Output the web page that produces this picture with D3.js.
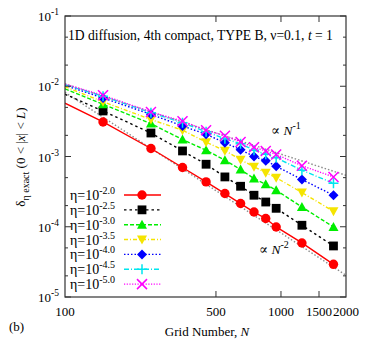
<!DOCTYPE html>
<html><head><meta charset="utf-8">
<script src="https://cdn.jsdelivr.net/npm/d3@7"></script>
<style>body{margin:0;background:#fff}svg{display:block}text{font-family:"Liberation Serif","DejaVu Serif",serif;fill:#000}</style>
</head><body>
<script>
// ---- data ----
const gridN = [100,150,250,350,450,550,650,750,850,950,1250,1750];
const eta20 = [5.73e-3,3.10e-3,1.30e-3,6.97e-4,4.35e-4,2.97e-4,2.14e-4,1.62e-4,1.31e-4,9.93e-5,5.88e-5,2.92e-5];
const eta25 = [7.69e-3,4.45e-3,2.16e-3,1.20e-3,7.76e-4,5.12e-4,3.77e-4,2.81e-4,2.25e-4,1.83e-4,1.05e-4,5.33e-5];
const eta30 = [9.20e-3,5.55e-3,2.94e-3,1.74e-3,1.23e-3,8.85e-4,6.52e-4,4.85e-4,4.03e-4,3.31e-4,1.91e-4,9.93e-5];
const eta35 = [9.84e-3,6.02e-3,3.36e-3,2.37e-3,1.60e-3,1.21e-3,9.00e-4,7.15e-4,5.87e-4,4.99e-4,3.07e-4,1.66e-4];
const eta40 = [1.03e-2,6.81e-3,3.99e-3,2.72e-3,2.07e-3,1.57e-3,1.25e-3,9.98e-4,8.70e-4,7.26e-4,4.70e-4,2.81e-4];
const eta45 = [1.05e-2,7.21e-3,4.20e-3,3.02e-3,2.25e-3,1.79e-3,1.52e-3,1.23e-3,1.08e-3,9.59e-4,6.37e-4,4.16e-4];
const eta50 = [1.07e-2,7.44e-3,4.31e-3,3.18e-3,2.37e-3,1.97e-3,1.61e-3,1.35e-3,1.20e-3,1.07e-3,7.38e-4,5.12e-4];
const seriesLabels = ["-2.0","-2.5","-3.0","-3.5","-4.0","-4.5","-5.0"];
const refN = [100, 2000];
const refSlope1 = [1.08e-2, 5.40e-4];   // ∝ N^-1
const refSlope2 = [8.16e-3, 2.04e-5];   // ∝ N^-2
const xTicks = [100, 500, 1000, 1500, 2000];
const yTickExps = ["-1","-2","-3","-4","-5"];
const yTicks = [1e-1,1e-2,1e-3,1e-4,1e-5];
const yMinor = [5e-2,2e-2,5e-3,2e-3,5e-4,2e-4,5e-5,2e-5];

// ---- layout ----
const W=382,H=344, L=65, R=346, T=16, B=297;
const svg=d3.select("body").append("svg").attr("width",W).attr("height",H);
const x=d3.scaleLog().domain([100,2000]).range([L,R]);
const y=d3.scaleLog().domain([1e-5,1e-1]).range([B,T]);

svg.append("clipPath").attr("id","clip").append("rect").attr("x",L).attr("y",T).attr("width",R-L).attr("height",B-T);

const styles=[
 {c:"#ff0000",dash:null,m:"circle"},
 {c:"#000000",dash:"2.5,3",m:"square"},
 {c:"#00ee00",dash:"4,2",m:"tri"},
 {c:"#f5e400",dash:"4,2,1,2",m:"dtri"},
 {c:"#0000ff",dash:"1.5,2",m:"diamond"},
 {c:"#00e5ee",dash:"5,2,1,2",m:"plus"},
 {c:"#ff00ff",dash:"1.2,1.5",m:"cross"}
];
const allSeries=[eta20,eta25,eta30,eta35,eta40,eta45,eta50];

function marker(g,type,cx,cy,col){
  if(type==="circle") g.append("circle").attr("cx",cx).attr("cy",cy).attr("r",4.7).attr("fill",col);
  else if(type==="square") g.append("rect").attr("x",cx-4.4).attr("y",cy-4.4).attr("width",8.8).attr("height",8.8).attr("fill",col);
  else if(type==="tri") g.append("path").attr("d",`M${cx},${cy-5}L${cx+5},${cy+4}L${cx-5},${cy+4}Z`).attr("fill",col);
  else if(type==="dtri") g.append("path").attr("d",`M${cx},${cy+5}L${cx+5},${cy-4}L${cx-5},${cy-4}Z`).attr("fill",col);
  else if(type==="diamond") g.append("path").attr("d",`M${cx},${cy-5}L${cx+5},${cy}L${cx},${cy+5}L${cx-5},${cy}Z`).attr("fill",col);
  else if(type==="plus") g.append("path").attr("d",`M${cx-5},${cy}H${cx+5}M${cx},${cy-5}V${cy+5}`).attr("stroke",col).attr("stroke-width",1.5);
  else if(type==="cross") g.append("path").attr("d",`M${cx-5},${cy-5}L${cx+5},${cy+5}M${cx-5},${cy+5}L${cx+5},${cy-5}`).attr("stroke",col).attr("stroke-width",1.5);
}

const plot=svg.append("g").attr("clip-path","url(#clip)");
const line=d3.line().x(d=>x(d[0])).y(d=>y(d[1]));
// reference lines
[refSlope1,refSlope2].forEach(r=>{
  plot.append("path").attr("d",line(refN.map((n,i)=>[n,r[i]]))).attr("fill","none")
   .attr("stroke","#8c8c8c").attr("stroke-width",1.4).attr("stroke-dasharray","1.5,2");
});
// series lines
allSeries.forEach((s,k)=>{
  const st=styles[k];
  plot.append("path").attr("d",line(gridN.map((n,i)=>[n,s[i]]))).attr("fill","none")
   .attr("stroke",st.c).attr("stroke-width",1.4).attr("stroke-dasharray",st.dash);
});
const mk=svg.append("g");
allSeries.forEach((s,k)=>{
  gridN.forEach((n,i)=>{ if(n>x.domain()[0]) marker(mk,styles[k].m,x(n),y(s[i]),styles[k].c); });
});

// frame
svg.append("rect").attr("x",L).attr("y",T).attr("width",R-L).attr("height",B-T).attr("fill","none").attr("stroke","#333").attr("stroke-width",1.2);
const tk=svg.append("g").attr("stroke","#333").attr("stroke-width",1);
xTicks.slice(1,-1).forEach(v=>{
  tk.append("line").attr("x1",x(v)).attr("x2",x(v)).attr("y1",B).attr("y2",B-6);
  tk.append("line").attr("x1",x(v)).attr("x2",x(v)).attr("y1",T).attr("y2",T+6);
});
yTicks.forEach(v=>{
  tk.append("line").attr("x1",L).attr("x2",L+6).attr("y1",y(v)).attr("y2",y(v));
  tk.append("line").attr("x1",R).attr("x2",R-6).attr("y1",y(v)).attr("y2",y(v));
});
yMinor.forEach(v=>{
  tk.append("line").attr("x1",L).attr("x2",L+3).attr("y1",y(v)).attr("y2",y(v));
  tk.append("line").attr("x1",R).attr("x2",R-3).attr("y1",y(v)).attr("y2",y(v));
});

// tick labels
const fs=13;
xTicks.forEach(v=>{
  svg.append("text").attr("x",x(v)).attr("y",316).attr("text-anchor","middle").attr("font-size",fs).text(v);
});
yTicks.forEach((v,i)=>{
  const t=svg.append("text").attr("x",59).attr("y",y(v)+5).attr("text-anchor","end").attr("font-size",fs);
  t.append("tspan").text("10");
  t.append("tspan").attr("dy",-6).attr("font-size",9.5).text(yTickExps[i]);
});

// axis titles
const xt=svg.append("text").attr("x",207).attr("y",336).attr("text-anchor","middle").attr("font-size",fs);
xt.append("tspan").text("Grid Number, ");
xt.append("tspan").attr("font-style","italic").text("N");

const yt=svg.append("text").attr("transform","translate(25,157) rotate(-90)").attr("text-anchor","middle").attr("font-size",fs);
yt.append("tspan").text("δ");
yt.append("tspan").attr("dy",4).attr("font-size",10).text("η exact");
yt.append("tspan").attr("dy",-4).text(" (0 < |");
yt.append("tspan").attr("font-style","italic").text("x");
yt.append("tspan").text("| < ");
yt.append("tspan").attr("font-style","italic").text("L");
yt.append("tspan").text(")");

svg.append("text").attr("x",9).attr("y",331).attr("font-size",fs).text("(b)");

// title inside
const tt=svg.append("text").attr("x",68).attr("y",40).attr("font-size",13.6);
tt.append("tspan").text("1D diffusion, 4th compact, TYPE B, ν=0.1, ");
tt.append("tspan").attr("font-style","italic").text("t");
tt.append("tspan").text(" = 1");

// slope annotations
function slopeLabel(px,py,exp){
  const t=svg.append("text").attr("x",px).attr("y",py).attr("font-size",13.5);
  t.append("tspan").text("∝ ");
  t.append("tspan").attr("font-style","italic").text("N");
  t.append("tspan").attr("dy",-6).attr("font-size",10).text(exp);
}
slopeLabel(271,135,"-1");
slopeLabel(259,254,"-2");

// legend
const lg=svg.append("g");
seriesLabels.forEach((lab,i)=>{
  const cy=195+i*14.85;
  const t=lg.append("text").attr("x",70).attr("y",cy+5).attr("font-size",fs+1);
  t.append("tspan").text("η=10");
  t.append("tspan").attr("dy",-6).attr("font-size",10).text(lab);
  lg.append("line").attr("x1",124).attr("x2",161).attr("y1",cy).attr("y2",cy)
    .attr("stroke",styles[i].c).attr("stroke-width",1.4).attr("stroke-dasharray",styles[i].dash);
  marker(lg,styles[i].m,142,cy,styles[i].c);
});
</script>
</body></html>
